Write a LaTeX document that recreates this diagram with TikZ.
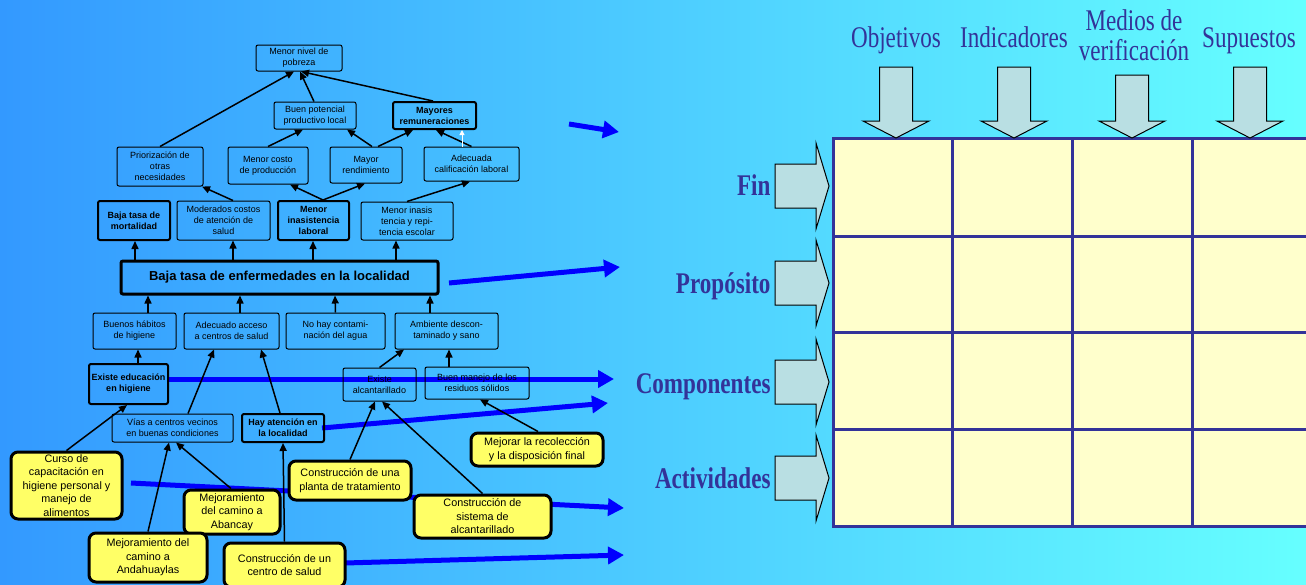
\documentclass[tikz,border=0pt]{standalone}
\usepackage{fontspec}
\setmainfont{Liberation Serif}
\setsansfont{Liberation Sans}
\usepackage{graphicx}
\usepackage{xcolor}
\usetikzlibrary{arrows.meta}
\definecolor{bgleft}{HTML}{3399FF}
\definecolor{bgright}{HTML}{66FFFF}
\definecolor{matblue}{HTML}{333399}
\definecolor{cellfill}{HTML}{FFFFCC}
\definecolor{arrfill}{HTML}{B9DFE3}
\definecolor{notefill}{HTML}{FFFF66}
\newcommand{\narrow}[1]{\scalebox{0.77}[1]{#1}}
\tikzset{every picture/.style={line width=1pt},
  tbox/.style={draw, rounded corners=2pt, align=center, inner sep=0pt, font=\sffamily\fontsize{9}{11}\selectfont},
  tboxb/.style={tbox, line width=2pt, font=\sffamily\bfseries\fontsize{9}{11}\selectfont},
  ybox/.style={draw, fill=notefill, line width=3pt, rounded corners=7pt, align=center, inner sep=0pt, font=\sffamily\fontsize{10.8}{13.5}\selectfont},
  tarrow/.style={line width=1.5pt, -{Triangle[length=8pt,width=7pt]}},
  barrow/.style={draw=blue, line width=5pt, -{Triangle[length=16pt,width=17pt]}},
  hdr/.style={text=matblue, font=\fontsize{30}{30}\selectfont, inner sep=0pt, align=center},
  rowlbl/.style={text=matblue, font=\bfseries\fontsize{30}{30}\selectfont, inner sep=0pt, anchor=base east}}

\begin{document}
\begin{tikzpicture}[x=1pt,y=1pt,yscale=-1,xscale=1]
\useasboundingbox (0,0) rectangle (1306,584);
%Shape: Background
\fill[left color=bgleft, right color=bgright] (0,0) rectangle (1306,584);

%Blue arrows towards the matrix
\coordinate (b1s) at (569,124); \coordinate (b1e) at (619,132);
\coordinate (b2s) at (449,283); \coordinate (b2e) at (620,267);
\coordinate (b3s) at (169,379); \coordinate (b3e) at (614,379);
\coordinate (b4s) at (322,428); \coordinate (b4e) at (608,403);
\coordinate (b5s) at (131,483); \coordinate (b5e) at (624,508);
\coordinate (b6s) at (345,563); \coordinate (b6e) at (624,555);
\draw[barrow] (b1s) -- (b1e);
\draw[barrow] (b2s) -- (b2e);
\draw[barrow] (b3s) -- (b3e);
\draw[barrow] (b4s) -- (b4e);
\draw[barrow] (b5s) -- (b5e);
\draw[barrow] (b6s) -- (b6e);

%Tree of objectives
\node[tbox, minimum width=86pt, minimum height=26pt] (pob) at (299,58) {Menor nivel de\\pobreza};
\node[tbox, minimum width=82pt, minimum height=27pt] (pot) at (315,115.5) {Buen potencial\\productivo local};
\node[tboxb, minimum width=83pt, minimum height=27pt] (rem) at (434.5,115.5) {Mayores\\remuneraciones};
\node[tbox, minimum width=86pt, minimum height=39pt] (prio) at (160,166.5) {Priorización de\\otras\\necesidades};
\node[tbox, minimum width=80pt, minimum height=37pt] (costo) at (268,165.5) {Menor costo\\de producción};
\node[tbox, minimum width=72pt, minimum height=36pt] (rend) at (366,165) {Mayor\\rendimiento};
\node[tbox, minimum width=95pt, minimum height=34pt] (calif) at (471.5,164) {Adecuada\\calificación laboral};
\node[tboxb, minimum width=72pt, minimum height=39pt] (mort) at (134,220.5) {Baja tasa de\\mortalidad};
\node[tbox, minimum width=93pt, minimum height=39pt] (mod) at (223.5,220.5) {Moderados costos\\de atención de\\salud};
\node[tboxb, minimum width=71pt, minimum height=39pt] (inas) at (313.5,220.5) {Menor\\inasistencia\\laboral};
\node[tbox, minimum width=92pt, minimum height=38pt] (esc) at (407,221) {Menor inasis\\tencia y repi-\\tencia escolar};
\node[tbox, line width=3pt, minimum width=317pt, minimum height=33pt, font=\sffamily\bfseries\fontsize{13}{15}\selectfont] (baja) at (279.5,277.5) {Baja tasa de enfermedades en la localidad};
\node[tbox, minimum width=83pt, minimum height=36pt] (hab) at (134.5,331) {Buenos hábitos\\de higiene};
\node[tbox, minimum width=95pt, minimum height=36pt] (acc) at (231.5,331) {Adecuado acceso\\a centros de salud};
\node[tbox, minimum width=99pt, minimum height=36pt] (agua) at (335.5,331) {No hay contami-\\nación del agua};
\node[tbox, minimum width=103pt, minimum height=36pt] (amb) at (446.5,331) {Ambiente descon-\\taminado y sano};
\node[tboxb, minimum width=79pt, minimum height=40pt] (edu) at (128.5,384) {Existe educación\\en higiene};
\node[tbox, minimum width=73pt, minimum height=33pt] (alc) at (379.5,384.5) {Existe\\alcantarillado};
\node[tbox, minimum width=104pt, minimum height=32pt] (res) at (477,383) {Buen manejo de los\\residuos sólidos};
\node[tbox, minimum width=121pt, minimum height=28pt] (vias) at (172.5,428) {Vías a centros vecinos\\en buenas condiciones};
\node[tboxb, minimum width=82pt, minimum height=28pt] (aten) at (283,428) {Hay atención en\\la localidad};

%Straight Lines
\draw[tarrow] (prio.north) -- ([xshift=-5]pob.south);
\draw[tarrow] ([xshift=-1]pot.north) -- ([xshift=1]pob.south);
\draw[tarrow] ([xshift=-1.5]rem.north) -- ([xshift=2]pob.south);
\draw[tarrow] (costo.north) -- ([xshift=-12]pot.south);
\draw[tarrow] ([xshift=6]rend.north) -- ([xshift=32]pot.south);
\draw[tarrow] ([xshift=12]rend.north) -- ([xshift=-21.5]rem.south);
\draw[tarrow] (calif.north) -- ([xshift=1.5]rem.south);
\draw[white, line width=1pt, -{Triangle[length=5pt,width=5pt]}] ([xshift=-9.5]calif.north) -- ([xshift=27.5]rem.south);
\draw[tarrow] ([xshift=9.5]mod.north) -- ([xshift=42]prio.south);
\draw[tarrow] ([xshift=9.5]inas.north) -- ([xshift=22]costo.south);
\draw[tarrow] ([xshift=9.5]inas.north) -- ([xshift=-1]rend.south);
\draw[tarrow] (esc.north) -- ([xshift=-1.5]calif.south);
\draw[tarrow] ([xshift=-144.5]baja.north) -- ([xshift=1]mort.south);
\draw[tarrow] ([xshift=-46.5]baja.north) -- ([xshift=9.5]mod.south);
\draw[tarrow] ([xshift=33.5]baja.north) -- ([xshift=-0.5]inas.south);
\draw[tarrow] ([xshift=116.5]baja.north) -- ([xshift=-11]esc.south);
\draw[tarrow] ([xshift=13.5]hab.north) -- ([xshift=-131.5]baja.south);
\draw[tarrow] ([xshift=8.5]acc.north) -- ([xshift=-39.5]baja.south);
\draw[tarrow] (agua.north) -- ([xshift=55.5]baja.south);
\draw[tarrow] ([xshift=-16.5]amb.north) -- ([xshift=150.5]baja.south);
\draw[tarrow] ([xshift=9.5]edu.north) -- ([xshift=3.5]hab.south);
\draw[tarrow] ([xshift=15.5]vias.north) -- ([xshift=-17.5]acc.south);
\draw[tarrow] ([xshift=-3]aten.north) -- ([xshift=29.5]acc.south);
\draw[tarrow] (alc.north) -- ([xshift=-42.5]amb.south);
\draw[tarrow] ([xshift=-28]res.north) -- ([xshift=2.5]amb.south);

%Activities (yellow boxes)
\node[ybox, minimum width=111pt, minimum height=67pt] (curso) at (66.5,485.5) {Curso de\\capacitación en\\higiene personal y\\manejo de\\alimentos};
\node[ybox, minimum width=96pt, minimum height=44pt] (abancay) at (232,512) {Mejoramiento\\del camino a\\Abancay};
\node[ybox, minimum width=118pt, minimum height=49pt] (andah) at (148,557.5) {Mejoramiento del\\camino a\\Andahuaylas};
\node[ybox, minimum width=121pt, minimum height=44pt] (salud) at (284.5,565) {Construcción de un\\centro de salud};
\node[ybox, minimum width=122pt, minimum height=39pt] (planta) at (350,480.5) {Construcción de una\\planta de tratamiento};
\node[ybox, minimum width=137pt, minimum height=43pt] (sist) at (482.5,516.5) {Construcción de\\sistema de\\alcantarillado};
\node[ybox, minimum width=132pt, minimum height=33pt] (recol) at (537,449.5) {Mejorar la recolección\\y la disposición final};

\draw[tarrow] (curso.north) -- ([xshift=-1.5]edu.south);
\draw[tarrow] (andah.north) -- ([xshift=-3.5]vias.south);
\draw[tarrow] ([xshift=-1]abancay.north) -- ([xshift=3.5]vias.south);
\draw[tarrow] (salud.north) -- (aten.south);
\draw[tarrow] (planta.north) -- ([xshift=-4.5]alc.south);
\draw[tarrow] (sist.north) -- ([xshift=2.5]alc.south);
\draw[tarrow] ([xshift=1]recol.north) -- ([xshift=3]res.south);

%Shape: Matrix
\fill[cellfill] (833,138) rectangle (1311,526);
\foreach \x in {952,1072,1192} \draw[matblue, line width=3pt] (\x,138) -- (\x,526);
\foreach \y in {236,332,429} \draw[matblue, line width=3pt] (833,\y) -- (1311,\y);
\draw[matblue, line width=3pt] (833,138) rectangle (1311,526);

%Shape: Down arrows
\foreach \cx/\ty in {896/67,1014/67,1132/75,1250/67}
  \draw[fill=arrfill] ({\cx-16.5},\ty) -- ({\cx+16.5},\ty) -- ({\cx+16.5},121) -- ({\cx+33},121) -- (\cx,138) -- ({\cx-33},121) -- ({\cx-16.5},121) -- cycle;
%Shape: Right arrows
\foreach \cy in {186,283,382,478}
  \draw[fill=arrfill] (775,{\cy-22}) -- (816,{\cy-22}) -- (816,{\cy-43}) -- (829,\cy) -- (816,{\cy+43}) -- (816,{\cy+22}) -- (775,{\cy+22}) -- cycle;

% Text Node
\node[hdr, anchor=base] (obj) at (896,47) {\narrow{Objetivos}};
\node[hdr, anchor=base] (ind) at (1014,47) {\narrow{Indicadores}};
\node[hdr, anchor=base] (med) at (1134,60) {\narrow{Medios de}\\\narrow{verificación}};
\node[hdr, anchor=base] (sup) at (1249,47) {\narrow{Supuestos}};
% Text Node
\node[rowlbl] (fin) at (771,195) {\narrow{Fin}};
\node[rowlbl] (prop) at (771,293) {\narrow{Propósito}};
\node[rowlbl] (comp) at (771,393) {\narrow{Componentes}};
\node[rowlbl] (act) at (771,488) {\narrow{Actividades}};

\end{tikzpicture}
\end{document}
